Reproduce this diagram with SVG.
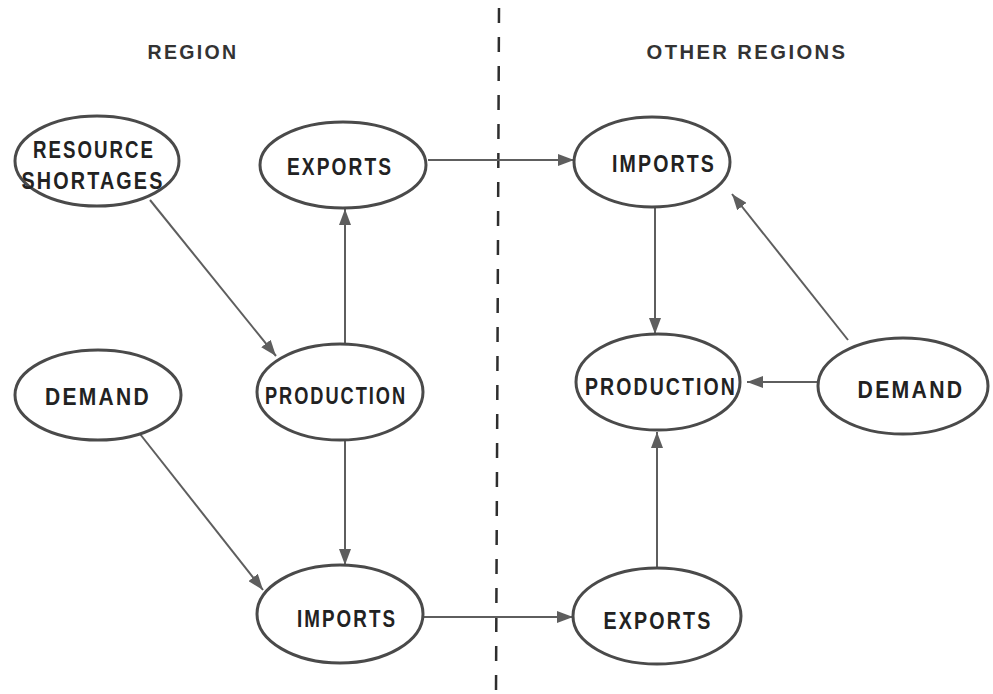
<svg xmlns="http://www.w3.org/2000/svg" width="993" height="694" viewBox="0 0 993 694">
  <style>
    .node ellipse { fill: #fff; stroke: #4a4a4a; stroke-width: 3; }
    .node text { font-family: "Liberation Sans", Arial, sans-serif; font-weight: bold; font-size: 23px; letter-spacing: 2.5px; fill: #222; text-anchor: middle; }
    .edge { stroke: #5e5e5e; stroke-width: 2; fill: none; marker-end: url(#arrow); }
    .heading { font-family: "Liberation Sans", Arial, sans-serif; font-weight: bold; font-size: 21px; letter-spacing: 2.5px; fill: #333; text-anchor: middle; }
    .divider { stroke: #2e2e2e; stroke-width: 2.5; stroke-dasharray: 15 14; }
  </style>
  <defs>
    <marker id="arrow" viewBox="0 0 10 10" refX="10" refY="5" markerWidth="16" markerHeight="12" markerUnits="userSpaceOnUse" orient="auto" preserveAspectRatio="none">
      <path d="M0,0 L10,5 L0,10 z" fill="#5e5e5e"/>
    </marker>
  </defs>
  <rect width="993" height="694" fill="#fff"/>

  <!-- boundary between the region and the other regions -->
  <line class="divider" x1="499" y1="8" x2="496" y2="694"/>
  <text class="heading" x="193" y="59" textLength="91" lengthAdjust="spacingAndGlyphs">REGION</text>
  <text class="heading" x="747" y="59" textLength="201" lengthAdjust="spacingAndGlyphs">OTHER REGIONS</text>

  <g id="connectors">
    <line class="edge" x1="428" y1="160" x2="574" y2="160"/>
    <line class="edge" x1="150" y1="200" x2="276" y2="356"/>
    <line class="edge" x1="345" y1="344" x2="345" y2="209"/>
    <line class="edge" x1="345" y1="441" x2="345" y2="565"/>
    <line class="edge" x1="140" y1="434" x2="263" y2="590"/>
    <line class="edge" x1="423" y1="617" x2="573" y2="617"/>
    <line class="edge" x1="657" y1="567" x2="657" y2="432"/>
    <line class="edge" x1="655" y1="207" x2="655" y2="334"/>
    <line class="edge" x1="848" y1="340" x2="732" y2="194"/>
    <line class="edge" x1="818" y1="382" x2="747" y2="382"/>
  </g>

  <g id="resource-shortages" class="node">
    <ellipse cx="97" cy="161" rx="82" ry="45"/>
    <text x="94" y="158" textLength="122" lengthAdjust="spacingAndGlyphs">RESOURCE</text>
    <text x="93" y="189" textLength="143" lengthAdjust="spacingAndGlyphs">SHORTAGES</text>
  </g>
  <g id="exports-region" class="node">
    <ellipse cx="343" cy="165" rx="83" ry="43"/>
    <text x="340" y="175" textLength="106" lengthAdjust="spacingAndGlyphs">EXPORTS</text>
  </g>
  <g id="demand-region" class="node">
    <ellipse cx="98" cy="395" rx="83" ry="45"/>
    <text x="98" y="405" textLength="106" lengthAdjust="spacingAndGlyphs">DEMAND</text>
  </g>
  <g id="production-region" class="node">
    <ellipse cx="340" cy="392" rx="83" ry="48"/>
    <text x="336" y="404" textLength="142" lengthAdjust="spacingAndGlyphs">PRODUCTION</text>
  </g>
  <g id="imports-region" class="node">
    <ellipse cx="340" cy="614" rx="83" ry="49"/>
    <text x="347" y="627" textLength="100" lengthAdjust="spacingAndGlyphs">IMPORTS</text>
  </g>
  <g id="imports-other" class="node">
    <ellipse cx="652" cy="162" rx="78" ry="45"/>
    <text x="664" y="172" textLength="104" lengthAdjust="spacingAndGlyphs">IMPORTS</text>
  </g>
  <g id="production-other" class="node">
    <ellipse cx="658" cy="382" rx="82" ry="48"/>
    <text x="661" y="395" textLength="152" lengthAdjust="spacingAndGlyphs">PRODUCTION</text>
  </g>
  <g id="demand-other" class="node">
    <ellipse cx="903" cy="386" rx="85" ry="48"/>
    <text x="911" y="398" textLength="107" lengthAdjust="spacingAndGlyphs">DEMAND</text>
  </g>
  <g id="exports-other" class="node">
    <ellipse cx="657" cy="616" rx="84" ry="48"/>
    <text x="658" y="629" textLength="109" lengthAdjust="spacingAndGlyphs">EXPORTS</text>
  </g>
</svg>
